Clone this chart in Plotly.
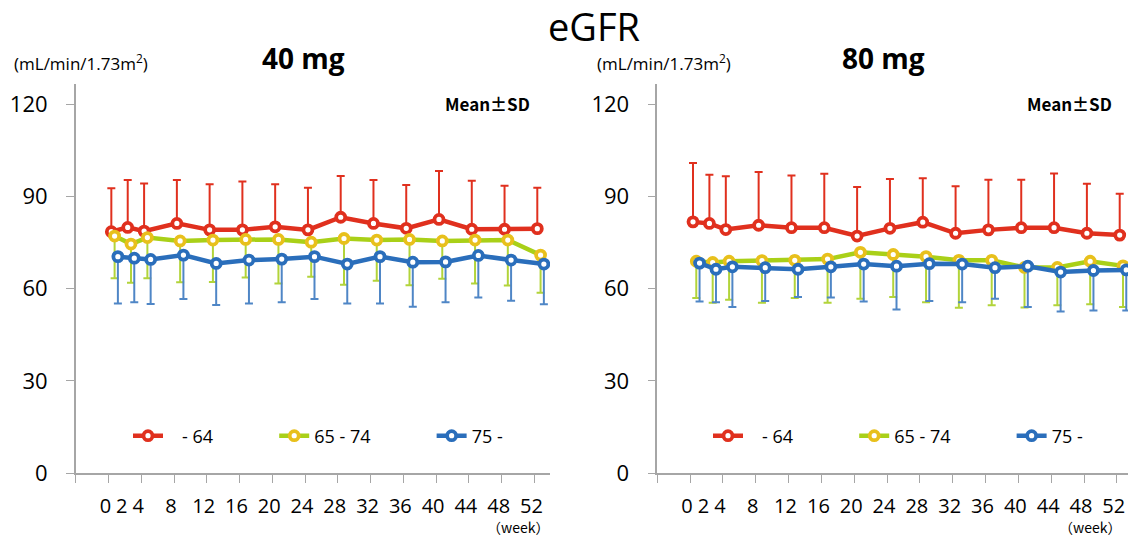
import plotly.graph_objects as go

# ---------------- data ----------------
weeks = [0, 2, 4, 8, 12, 16, 20, 24, 28, 32, 36, 40, 44, 48, 52]
tick_mark_weeks = [-4, 0, 4, 8, 12, 16, 20, 24, 28, 32, 36, 40, 44, 48, 52]
y_ticks = [0, 30, 60, 90, 120]
groups = [" - 64", "65 - 74", "75 -"]
panels = ["40 mg", "80 mg"]

# 40 mg
mean_40_u64 = [78.5, 79.9, 78.7, 81.2, 79.1, 79.1, 80.1, 79.1, 83.2, 81.2, 79.6, 82.5, 79.3, 79.3, 79.5]
sd_40_u64 = [14.1, 15.4, 15.5, 14.1, 14.8, 15.7, 13.8, 13.7, 13.4, 14.1, 14.1, 15.7, 15.8, 14.1, 13.3]
mean_40_6574 = [77.1, 74.5, 76.6, 75.5, 75.8, 76.0, 76.0, 75.1, 76.3, 75.8, 76.0, 75.5, 75.8, 75.8, 70.9]
sd_40_6574 = [13.7, 12.6, 13.2, 13.4, 13.6, 12.4, 14.3, 11.2, 15.0, 13.2, 14.9, 12.3, 14.1, 14.8, 12.2]
mean_40_o75 = [70.4, 69.9, 69.5, 70.9, 68.2, 69.3, 69.6, 70.4, 68.0, 70.4, 68.6, 68.7, 70.8, 69.3, 68.0]
sd_40_o75 = [15.2, 14.3, 14.5, 14.3, 13.5, 14.1, 14.0, 13.8, 12.8, 15.2, 14.5, 13.1, 13.7, 13.2, 13.1]

# 80 mg
mean_80_u64 = [81.7, 81.2, 79.2, 80.6, 79.8, 79.8, 77.1, 79.6, 81.6, 78.0, 79.1, 79.8, 79.8, 78.0, 77.4]
sd_80_u64 = [19.1, 15.8, 17.3, 17.3, 17.0, 17.5, 15.9, 16.0, 14.3, 15.3, 16.3, 15.6, 17.6, 16.1, 13.4]
mean_80_6574 = [68.9, 68.5, 68.9, 69.1, 69.2, 69.6, 71.8, 71.1, 70.4, 69.2, 69.2, 66.9, 66.9, 68.9, 67.4]
sd_80_6574 = [11.9, 13.1, 12.5, 13.7, 12.2, 14.2, 15.1, 13.8, 14.8, 15.4, 14.6, 13.0, 12.3, 14.0, 13.4]
mean_80_o75 = [68.3, 66.3, 67.1, 66.8, 66.3, 67.1, 68.0, 67.3, 68.1, 68.0, 66.8, 67.3, 65.4, 65.9, 66.1]
sd_80_o75 = [12.5, 10.7, 13.1, 10.8, 9.0, 10.0, 12.2, 14.1, 12.1, 12.4, 10.1, 13.3, 12.8, 13.0, 13.2]

# ---------------- styles ----------------
NB = "\u00a0"
legend_pad_left = [3, 0, 0]      # non-breaking spaces before the name
legend_pad_right = [12, 12, 0]   # non-breaking spaces after the name
line_colors = ["#e0301e", "#a9d018", "#2a6ebb"]
marker_line_colors = ["#e0301e", "#e8c01c", "#2a6ebb"]
err_colors = ["#e0301e", "#b2d43a", "#4f86c6"]
x_shift = [0.35, 0.75, 1.15]          # small horizontal stagger of the groups
upward = [True, False, False]         # red shows +SD, others -SD
AX = "#a6a6a6"
FONT = "Open Sans"

series = [
    [(mean_40_u64, sd_40_u64), (mean_40_6574, sd_40_6574), (mean_40_o75, sd_40_o75)],
    [(mean_80_u64, sd_80_u64), (mean_80_6574, sd_80_6574), (mean_80_o75, sd_80_o75)],
]

fig = go.Figure()
for p in range(2):
    xa = "x" if p == 0 else "x2"
    ya = "y" if p == 0 else "y2"
    for g in range(3):
        mean, sd = series[p][g]
        zeros = [0] * len(sd)
        name = NB * legend_pad_left[g] + groups[g].strip() + NB * legend_pad_right[g]
        fig.add_trace(go.Scatter(
            x=[w + x_shift[g] for w in weeks], y=mean,
            mode="lines+markers", name=name,
            xaxis=xa, yaxis=ya,
            legend="legend" if p == 0 else "legend2",
            line=dict(color=line_colors[g], width=4.5),
            marker=dict(symbol="circle", size=9, color="white",
                        line=dict(color=marker_line_colors[g], width=3.8)),
            error_y=dict(type="data", symmetric=False,
                         array=sd if upward[g] else zeros,
                         arrayminus=zeros if upward[g] else sd,
                         color=err_colors[g], thickness=2, width=4),
            hoverinfo="x+y",
        ))
    # invisible carrier so the week-label axis is drawn
    fig.add_trace(go.Scatter(
        x=weeks, y=[None] * len(weeks), mode="markers",
        xaxis="x3" if p == 0 else "x4", yaxis=ya,
        showlegend=False, hoverinfo="skip", marker=dict(opacity=0)))

W, H = 1128, 538
y_dom = [(H - 473.3) / H, (H - 84) / H]
x_dom = [[75.7 / W, 550 / W], [657.3 / W, 1.0]]
x_rng = [[-4, 53.9], [-4, 53.36]]
lab_shift = 0.37

axis_common = dict(showgrid=False, zeroline=False, automargin=False)
for p in range(2):
    sfx = "" if p == 0 else "2"
    lsfx = "3" if p == 0 else "4"
    fig.layout["xaxis" + sfx] = dict(
        domain=x_dom[p], range=x_rng[p], anchor="y" + sfx,
        tickmode="array", tickvals=tick_mark_weeks, ticks="outside", ticklen=8,
        tickcolor=AX, tickwidth=1.2, showticklabels=False,
        showline=True, linecolor=AX, linewidth=1.5, **axis_common)
    fig.layout["xaxis" + lsfx] = dict(
        overlaying="x" + sfx, anchor="y" + sfx, side="bottom",
        range=[x_rng[p][0] + lab_shift, x_rng[p][1] + lab_shift],
        tickmode="array", tickvals=weeks, ticktext=[str(w) for w in weeks],
        ticks="", showline=False, ticklabelstandoff=19,
        tickfont=dict(family=FONT, size=20, color="black"), **axis_common)
    fig.layout["yaxis" + sfx] = dict(
        domain=y_dom, range=[0, 126.5], anchor="x" + sfx,
        tickmode="array", tickvals=y_ticks, ticks="outside", ticklen=8,
        tickcolor=AX, tickwidth=1.2, showline=True, linecolor=AX, linewidth=1.5,
        ticklabelstandoff=14,
        tickfont=dict(family=FONT, size=22, color="black"), **axis_common)


def note(text, x, y, size, family=FONT, xanchor="center"):
    return dict(text=text, x=x / W, y=1 - y / H, xref="paper", yref="paper",
                xanchor=xanchor, yanchor="middle", showarrow=False,
                font=dict(family=family, size=size, color="black"))


ann = [note("eGFR", 594, 26, 38)]
centers = [303, 883]
unit_x = [12, 595]
mean_sd_x = [487, 1069]
week_x = [518, 1090]
for p in range(2):
    ann.append(note("<b>" + panels[p] + "</b>", centers[p], 58, 28))
    ann.append(note("(mL/min/1.73m<sup>2</sup>)", unit_x[p], 63, 17, xanchor="left"))
    ann.append(note("<b>Mean±SD</b>", mean_sd_x[p], 103, 17, family="Noto Sans CJK JP"))
    ann.append(note("（week）", week_x[p], 527, 14, family="Noto Sans CJK JP"))

legend_common = dict(orientation="h", xanchor="left", yanchor="middle",
                     y=1 - 436 / H, bgcolor="rgba(0,0,0,0)",
                     font=dict(family=FONT, size=18, color="black"),
                     tracegroupgap=0)

fig.update_layout(
    template="none",
    width=W, height=H, margin=dict(l=0, r=0, t=0, b=0, pad=0),
    paper_bgcolor="white", plot_bgcolor="white",
    font=dict(family=FONT, color="black"),
    annotations=ann,
    legend=dict(x=128 / W, **legend_common),
    legend2=dict(x=708 / W, **legend_common),
    hovermode="closest",
)

fig.write_html("out.html")
